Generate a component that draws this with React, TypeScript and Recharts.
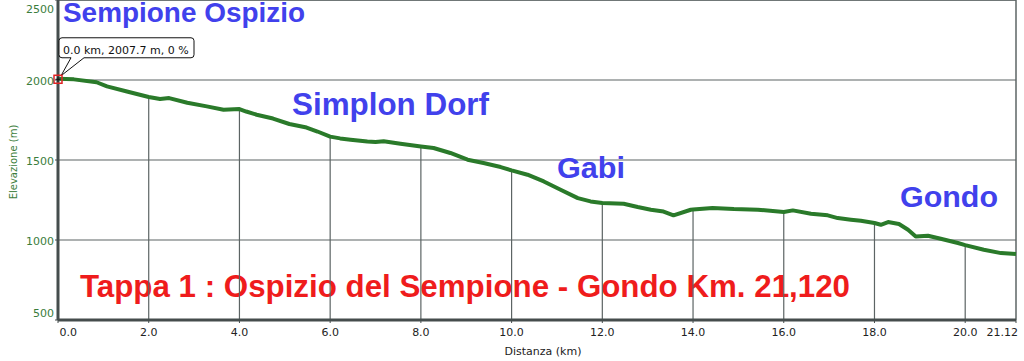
import React from 'react'
import {
  LineChart, Line, XAxis, YAxis, CartesianGrid, ReferenceLine, ReferenceDot, Customized,
} from 'recharts'

// profile: distance (km) and elevation (m)
const distanceKm = [
  0, 0.35, 0.85, 1.08, 1.52, 2.0, 2.25, 2.45, 2.85, 3.28, 3.65, 4.0, 4.15, 4.38, 4.74,
  5.1, 5.48, 5.72, 6.0, 6.22, 6.45, 6.82, 7.0, 7.18, 7.55, 8.0, 8.28, 8.65, 9.03, 9.38,
  9.76, 10.0, 10.35, 10.71, 11.08, 11.46, 11.74, 12.0, 12.47, 12.78, 13.07, 13.35, 13.57, 13.95, 14.0,
  14.43, 14.9, 15.43, 16.0, 16.2, 16.6, 16.97, 17.19, 17.48, 17.7, 18.0, 18.14, 18.3, 18.54, 18.74,
  18.91, 19.18, 19.46, 19.84, 20.0, 20.41, 20.79, 21.12,
]
const elevationM = [
  2007.7, 2004, 1986, 1960, 1928, 1894, 1881, 1887, 1858, 1835, 1814, 1818, 1803, 1783, 1759,
  1725, 1703, 1678, 1646, 1635, 1627, 1616, 1612, 1617, 1602, 1585, 1575, 1544, 1502, 1481,
  1456, 1435, 1408, 1366, 1314, 1262, 1241, 1231, 1227, 1206, 1189, 1178, 1154, 1189, 1190,
  1200, 1193, 1189, 1175, 1185, 1164, 1154, 1137, 1127, 1120, 1106, 1095, 1112, 1100, 1064,
  1022, 1027, 1008, 981, 968, 939, 918, 912,
]

const xTicks = [0, 2, 4, 6, 8, 10, 12, 14, 16, 18, 20, 21.12]
const yTicks = [500, 1000, 1500, 2000, 2500]
const dropKm = [2, 4, 6, 8, 10, 12, 14, 16, 18, 20]
const placeNames = ['Sempione Ospizio', 'Simplon Dorf', 'Gabi', 'Gondo']
const stageTitle = 'Tappa 1 : Ospizio del Sempione - Gondo Km. 21,120'
const startInfo = '0.0 km, 2007.7 m, 0 %'

const data = distanceKm.map((km, i) => ({ km, ele: elevationM[i] }))
const endKm = distanceKm[distanceKm.length - 1]

const GRID = '#5c6464'
const AXIS = '#454d4d'
const GREEN_TXT = '#3b7d3b'
const BLUE = '#4141ec'
const RED = '#ef1c1c'
const TICK_FONT = '"DejaVu Sans", Verdana, sans-serif'
const BIG_FONT = '"Liberation Sans", Arial, Helvetica, sans-serif'

function XTick({ x, y, payload }: { x?: number; y?: number; payload?: { value: number } }): React.ReactElement | null {
  if (x == null || y == null || !payload) return null
  const v = payload.value
  const anchor = v === 0 ? 'start' : v === endKm ? 'end' : 'middle'
  const label = v === endKm ? String(v) : v.toFixed(1)
  const dx = v === 0 ? 1.5 : v === endKm ? 2 : 0
  return (
    <text x={x + dx} y={y + 11} textAnchor={anchor} fontSize={11} fontFamily={TICK_FONT} fill="#222">
      {label}
    </text>
  )
}

function YTick({ x, y, payload }: { x?: number; y?: number; payload?: { value: number } }): React.ReactElement | null {
  if (x == null || y == null || !payload) return null
  const v = payload.value
  let base = y + 4.5
  if (v === 2500) base = y + 13
  if (v === 500) base = y - 3
  return (
    <text x={x + 1} y={base} textAnchor="end" fontSize={11} fontFamily={TICK_FONT} fill={GREEN_TXT}>
      {v}
    </text>
  )
}

function StartMarker({ cx, cy }: { cx?: number; cy?: number }): React.ReactElement | null {
  if (cx == null || cy == null) return null
  const l = cx + 1, r = cx + 136, t = cy - 41, b = cy - 21
  const path = `M ${l + 3} ${t} H ${r - 3} Q ${r} ${t} ${r} ${t + 3} V ${b - 3} Q ${r} ${b} ${r - 3} ${b}`
    + ` H ${cx + 26} L ${cx + 3} ${cy - 3} L ${cx + 13} ${b} H ${l + 3} Q ${l} ${b} ${l} ${b - 3}`
    + ` V ${t + 3} Q ${l} ${t} ${l + 3} ${t} Z`
  return (
    <g>
      <path d={path} fill="#fff" stroke="#111" strokeWidth={1} />
      <text x={cx + 5} y={cy - 25} fontSize={11} fontFamily={TICK_FONT} fill="#111">{startInfo}</text>
      <rect x={cx - 4} y={cy - 3.5} width={8} height={8} fill="none" stroke="#e02424" strokeWidth={1.5} />
      <path d={`M ${cx - 2.5} ${cy + 0.5} H ${cx + 2.5} M ${cx} ${cy - 2} V ${cy + 3}`} stroke="#111" strokeWidth={1} />
    </g>
  )
}

function Labels(): React.ReactElement {
  const spots = [
    { x: 63, y: 22, size: 28, len: 242 },
    { x: 292, y: 115, size: 31, len: 197 },
    { x: 557, y: 178, size: 29, len: 68 },
    { x: 900, y: 207, size: 29, len: 98 },
  ]
  return (
    <g>
      {placeNames.map((name, i) => (
        <text key={name} x={spots[i].x} y={spots[i].y} fontSize={spots[i].size} fontWeight="bold"
          fontFamily={BIG_FONT} fill={BLUE} textLength={spots[i].len} lengthAdjust="spacingAndGlyphs">
          {name}
        </text>
      ))}
      <text x={80} y={297} fontSize={31} fontWeight="bold" fontFamily={BIG_FONT} fill={RED}
        textLength={770} lengthAdjust="spacingAndGlyphs">
        {stageTitle}
      </text>
      <text x={13} y={162} transform="rotate(-90 13 162)" textAnchor="middle" dominantBaseline="central"
        fontSize={10} fontFamily={TICK_FONT} fill={GREEN_TXT}>
        Elevazione (m)
      </text>
      <text x={543} y={355} textAnchor="middle" fontSize={11} fontFamily={TICK_FONT} fill="#222">
        Distanza (km)
      </text>
    </g>
  )
}

export default function App(): React.ReactElement {
  return (
    <div style={{ position: 'absolute', left: 0, top: 0, width: 1024, height: 361, background: '#fff' }}>
      <LineChart width={1024} height={361} data={data} margin={{ top: 0, right: 8, bottom: 0, left: 0 }}>
        <CartesianGrid vertical={false} stroke={GRID} strokeWidth={1.2} />
        <XAxis dataKey="km" type="number" domain={[0, endKm]} ticks={xTicks} interval={0} height={41}
          tick={<XTick />} tickSize={3} axisLine={{ stroke: AXIS, strokeWidth: 3 }} tickLine={{ stroke: AXIS }} />
        <YAxis type="number" domain={[500, 2500]} ticks={yTicks} interval={0} width={58}
          tick={<YTick />} tickSize={3} axisLine={{ stroke: AXIS, strokeWidth: 3 }} tickLine={{ stroke: AXIS }} />
        <ReferenceLine y={2500} stroke={GRID} strokeWidth={1.5} />
        <ReferenceLine x={endKm} stroke={GRID} strokeWidth={1.5} />
        {dropKm.map((km) => {
          const idx = distanceKm.indexOf(km)
          return (
            <ReferenceLine key={km} segment={[{ x: km, y: 500 }, { x: km, y: elevationM[idx] }]}
              stroke={GRID} strokeWidth={1.2} />
          )
        })}
        <Line type="linear" dataKey="ele" stroke="#2a7a2a" strokeWidth={4} dot={false}
          strokeLinejoin="round" isAnimationActive={false} />
        <ReferenceDot x={0} y={elevationM[0]} shape={<StartMarker />} ifOverflow="visible" />
        <Customized component={<Labels />} />
      </LineChart>
    </div>
  )
}
